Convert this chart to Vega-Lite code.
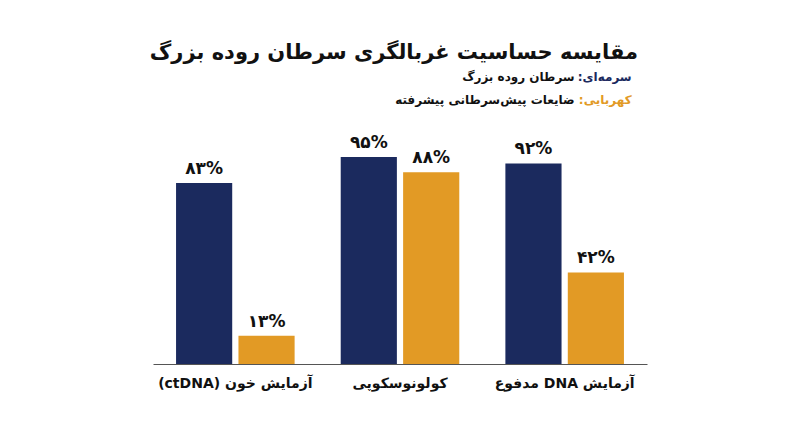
{
  "$schema": "https://vega.github.io/schema/vega-lite/v6.json",
  "width": 494,
  "height": 218,
  "autosize": "none",
  "padding": {"left": 153, "top": 146, "right": 153, "bottom": 83},
  "background": "white",
  "config": {
    "view": {"stroke": null},
    "font": "DejaVu Sans",
    "locale": {
      "number": {
        "decimal": ".",
        "thousands": ",",
        "grouping": [3],
        "currency": ["", ""],
        "numerals": ["۰", "۱", "۲", "۳", "۴", "۵", "۶", "۷", "۸", "۹"],
        "percent": "%"
      }
    }
  },
  "title": {
    "text": "مقایسه حساسیت غربالگری سرطان روده بزرگ",
    "anchor": "end",
    "frame": "group",
    "dx": -9,
    "offset": 8,
    "fontSize": 21,
    "fontWeight": "bold",
    "color": "#111111"
  },
  "datasets": {
    "bars": [
      {"test": "آزمایش خون (ctDNA)", "series": "سرطان روده بزرگ", "value": 0.83},
      {"test": "آزمایش خون (ctDNA)", "series": "ضایعات پیش\u200cسرطانی پیشرفته", "value": 0.13},
      {"test": "کولونوسکوپی", "series": "سرطان روده بزرگ", "value": 0.95},
      {"test": "کولونوسکوپی", "series": "ضایعات پیش\u200cسرطانی پیشرفته", "value": 0.88},
      {"test": "آزمایش DNA مدفوع", "series": "سرطان روده بزرگ", "value": 0.92},
      {"test": "آزمایش DNA مدفوع", "series": "ضایعات پیش\u200cسرطانی پیشرفته", "value": 0.42}
    ],
    "legend": [
      {"series": "سرطان روده بزرگ", "key": "\u202bسرمه\u200cای:\u202c"},
      {"series": "ضایعات پیش\u200cسرطانی پیشرفته", "key": "\u202bکهربایی:\u202c"}
    ]
  },
  "layer": [
    {
      "data": {"name": "bars"},
      "mark": {"type": "bar"},
      "encoding": {
        "x": {
          "field": "test",
          "type": "nominal",
          "sort": ["آزمایش خون (ctDNA)", "کولونوسکوپی", "آزمایش DNA مدفوع"],
          "scale": {"paddingInner": 0.28, "paddingOuter": 0.14},
          "axis": {
            "title": null,
            "labelAngle": 0,
            "ticks": false,
            "domainColor": "#555555",
            "domainWidth": 1,
            "labelFontSize": 14,
            "labelFontWeight": "bold",
            "labelColor": "#111111",
            "labelPadding": 12,
            "labelExpr": "'\u202b' + datum.label + '\u202c'"
          }
        },
        "xOffset": {
          "field": "series",
          "type": "nominal",
          "sort": ["سرطان روده بزرگ", "ضایعات پیش\u200cسرطانی پیشرفته"],
          "scale": {"paddingInner": 0.1}
        },
        "y": {
          "field": "value",
          "type": "quantitative",
          "scale": {"domain": [0, 1], "nice": false},
          "axis": null
        },
        "color": {
          "field": "series",
          "type": "nominal",
          "scale": {
            "domain": ["سرطان روده بزرگ", "ضایعات پیش\u200cسرطانی پیشرفته"],
            "range": ["#1b2a5e", "#e29a25"]
          },
          "legend": null
        }
      }
    },
    {
      "data": {"name": "bars"},
      "mark": {"type": "text", "baseline": "bottom", "dy": -5, "fontSize": 17, "fontWeight": "bold", "color": "#111111"},
      "encoding": {
        "x": {"field": "test", "type": "nominal", "sort": ["آزمایش خون (ctDNA)", "کولونوسکوپی", "آزمایش DNA مدفوع"]},
        "xOffset": {"field": "series", "type": "nominal", "sort": ["سرطان روده بزرگ", "ضایعات پیش\u200cسرطانی پیشرفته"]},
        "y": {"field": "value", "type": "quantitative"},
        "text": {"field": "value", "type": "quantitative", "format": ".0%"}
      }
    },
    {
      "data": {"name": "legend"},
      "transform": [{"filter": "datum.series == 'سرطان روده بزرگ'"}],
      "mark": {"type": "text", "align": "right", "baseline": "middle", "dx": 67, "fontSize": 12, "fontWeight": "bold"},
      "encoding": {
        "x": {"datum": "آزمایش DNA مدفوع", "type": "nominal"},
        "y": {"datum": 1.317, "type": "quantitative"},
        "text": {"field": "key"},
        "color": {"field": "series", "type": "nominal", "legend": null}
      }
    },
    {
      "data": {"name": "legend"},
      "transform": [{"filter": "datum.series == 'سرطان روده بزرگ'"}],
      "mark": {"type": "text", "align": "right", "baseline": "middle", "dx": 10, "fontSize": 12, "fontWeight": "bold", "color": "#111111"},
      "encoding": {
        "x": {"datum": "آزمایش DNA مدفوع", "type": "nominal"},
        "y": {"datum": 1.317, "type": "quantitative"},
        "text": {"field": "series"}
      }
    },
    {
      "data": {"name": "legend"},
      "transform": [{"filter": "datum.series != 'سرطان روده بزرگ'"}],
      "mark": {"type": "text", "align": "right", "baseline": "middle", "dx": 67, "fontSize": 12, "fontWeight": "bold"},
      "encoding": {
        "x": {"datum": "آزمایش DNA مدفوع", "type": "nominal"},
        "y": {"datum": 1.211, "type": "quantitative"},
        "text": {"field": "key"},
        "color": {"field": "series", "type": "nominal", "legend": null}
      }
    },
    {
      "data": {"name": "legend"},
      "transform": [{"filter": "datum.series != 'سرطان روده بزرگ'"}],
      "mark": {"type": "text", "align": "right", "baseline": "middle", "dx": 10, "fontSize": 12, "fontWeight": "bold", "color": "#111111"},
      "encoding": {
        "x": {"datum": "آزمایش DNA مدفوع", "type": "nominal"},
        "y": {"datum": 1.211, "type": "quantitative"},
        "text": {"field": "series"}
      }
    }
  ]
}
